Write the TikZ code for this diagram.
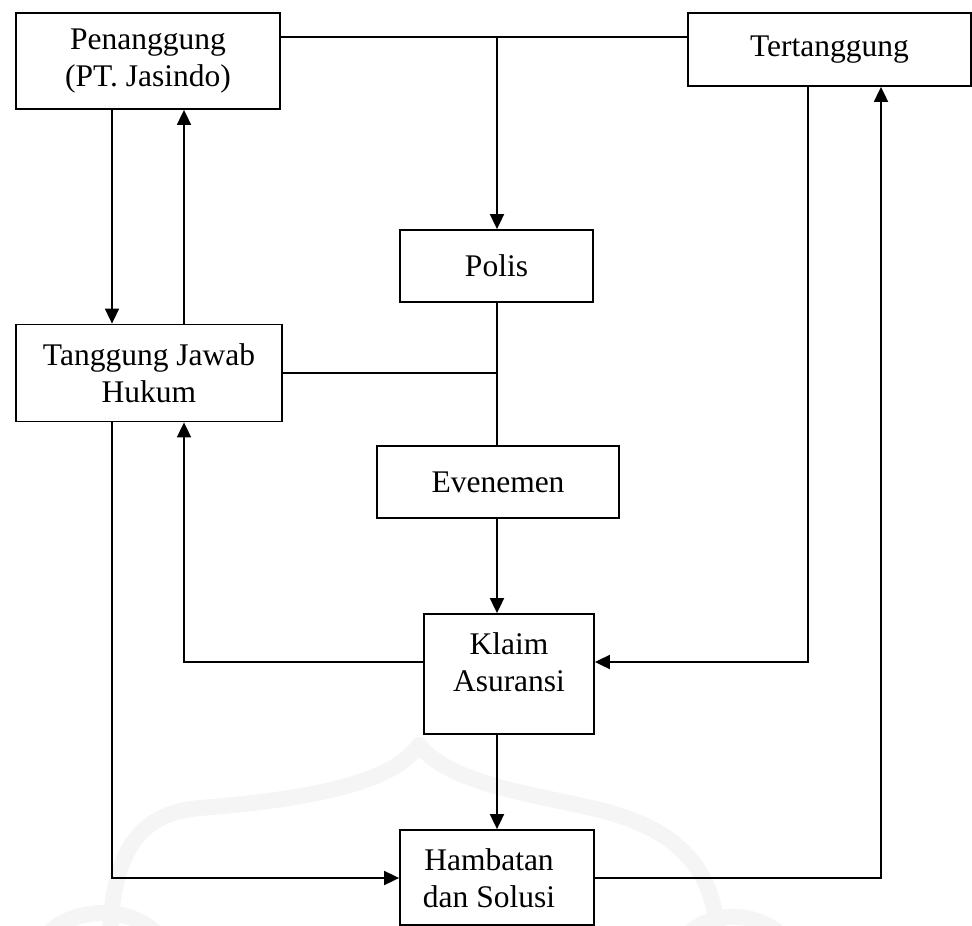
\documentclass[tikz,border=0pt]{standalone}
\usepackage{fontspec}
\setmainfont{Liberation Serif}
\usetikzlibrary{arrows.meta}
\begin{document}
\begin{tikzpicture}[x=1pt,y=-1pt,
  box/.style={draw,line width=1.8pt,rectangle,inner sep=0pt,align=center,
    font=\fontsize{31.5}{37}\selectfont},
  txt/.style={inner sep=0pt,align=center,font=\fontsize{31.5}{37}\selectfont},
  ln/.style={line width=1.8pt},
  arr/.style={line width=1.8pt,-{Triangle[length=15pt,width=14pt]}},
  wm/.style={line width=16pt,color=gray!8,line cap=round}]
\useasboundingbox (0,0) rectangle (972,926);
% faint watermark
\draw[wm] (419,745) .. controls (392,785) and (300,800) .. (200,808)
  .. controls (140,813) and (112,850) .. (110,940);
\draw[wm] (419,745) .. controls (450,785) and (540,795) .. (600,810)
  .. controls (680,830) and (715,870) .. (718,940);
\draw[wm] (40,945) .. controls (60,905) and (140,900) .. (165,945);
\draw[wm] (680,945) .. controls (700,910) and (760,905) .. (790,945);
% boxes
\node[box,minimum width=264pt,minimum height=96pt] (pen) at (148,61) {Penanggung\\(PT. Jasindo)};
\node[box,minimum width=283pt,minimum height=73pt] (ter) at (829.5,49.5) {\raisebox{3pt}{Tertanggung}};
\node[box,minimum width=193pt,minimum height=72pt] (pol) at (496.5,266) {Polis};
\node[box,minimum width=266pt,minimum height=97pt] (tjh) at (149,373) {Tanggung Jawab\\Hukum};
\node[box,minimum width=242pt,minimum height=72pt] (eve) at (498,482) {Evenemen};
\node[box,minimum width=170pt,minimum height=120pt] (kla) at (509,674) {};
\node[txt] (klat) at (509,662) {Klaim\\Asuransi};
\node[box,minimum width=194pt,minimum height=95pt] (ham) at (497,877.5) {};
\node[txt] (hamt) at (489,878) {Hambatan\\dan Solusi};
% helper coordinates
\coordinate (cA) at (112,0);
\coordinate (cB) at (184,0);
\coordinate (cM) at (497,0);
\coordinate (cT) at (808,0);
\coordinate (cU) at (881,0);
\coordinate (cJ) at (497,37);
\coordinate (cK) at (0,662);
\coordinate (cH) at (0,878);
% connectors
\draw[ln] (pen.east |- cJ) -- (ter.west |- cJ);
\draw[arr] (cJ) -- (pol.north -| cJ);
\draw[ln] (pol.south -| cM) -- (eve.north -| cM);
\draw[ln] (tjh.east) -- (tjh.east -| cM);
\draw[arr] (pen.south -| cA) -- (tjh.north -| cA);
\draw[arr] (tjh.north -| cB) -- (pen.south -| cB);
\draw[arr] (eve.south -| cM) -- (kla.north -| cM);
\draw[arr] (kla.west |- cK) -| (tjh.south -| cB);
\draw[arr] (ter.south -| cT) |- (kla.east |- cK);
\draw[arr] (kla.south -| cM) -- (ham.north -| cM);
\draw[arr] (tjh.south -| cA) |- (ham.west |- cH);
\draw[arr] (ham.east |- cH) -| (ter.south -| cU);
\end{tikzpicture}
\end{document}
